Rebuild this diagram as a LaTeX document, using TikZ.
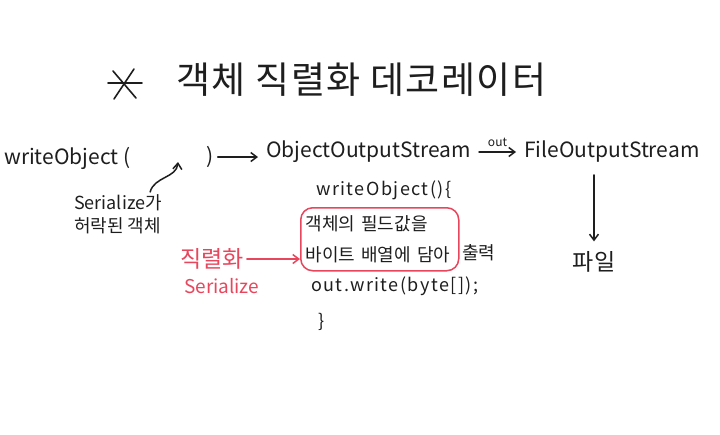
\documentclass[tikz,border=0pt]{standalone}
\usepackage{fontspec}
\setmainfont{Noto Sans CJK KR}
\usetikzlibrary{arrows.meta, positioning}
\definecolor{ink}{RGB}{30,30,30}
\definecolor{marker}{RGB}{232,70,92}
\tikzset{
  lbl/.style={inner sep=0pt, anchor=west, text=ink, font=\fontsize{21}{24}\selectfont},
  code/.style={inner sep=0pt, anchor=west, text=ink,
    font=\fontsize{18}{20}\selectfont\addfontfeature{LetterSpace=8}},
  note/.style={inner sep=0pt, text=ink, align=left, font=\fontsize{18}{23}\selectfont},
  redlbl/.style={inner sep=0pt, anchor=west, text=marker},
  arrow/.style={-{Straight Barb[length=6pt, width=9pt]}, line width=1.5pt, color=ink, line cap=round},
  redarrow/.style={-{Straight Barb[length=6pt, width=9pt]}, line width=1.5pt, color=marker, line cap=round},
}
\begin{document}
\begin{tikzpicture}[x=1pt, y=-1pt]
  \useasboundingbox[fill=white] (0,0) rectangle (720,434);

  % title with star
  \draw[ink, line width=1.6pt, line cap=round]
    (108,83)--(142,83) (113,71)--(136,98) (134,69)--(114,99);
  \node[lbl, font=\fontsize{37}{40}\selectfont\addfontfeature{LetterSpace=4}] (title) at (176,80)
    {객체 직렬화 데코레이터};

  % top row
  \node[lbl] (wo) at (4,158) {writeObject (};
  \node[lbl, anchor=center] (close) at (210,157) {)};
  \node[lbl] (oos) at (266,152) {ObjectOutputStream};
  \node[lbl] (fos) at (524,152) {FileOutputStream};
  \coordinate (arg) at (178,162);

  \draw[arrow] ([xshift=4pt]close.east) -- ([xshift=-8pt]close.east -| oos.west);
  \draw[arrow] ([xshift=8pt]oos.east) -- ([xshift=-8pt]fos.west)
    node[midway, above=5pt, inner sep=0pt, text=ink, font=\fontsize{12}{12}\selectfont] (out) {out};

  % argument note
  \node[note, anchor=north west] (allowed) at (74,194) {Serialize가\\허락된 객체};
  \draw[arrow] ([xshift=-12pt,yshift=2pt]allowed.north east) to[out=75, in=-95] (arg);

  % writeObject body
  \node[code] (body) at (316,190) {writeObject()\{};
  \node[draw=marker, line width=1.5pt, rounded corners=12pt, inner sep=5pt,
        text width=148pt, minimum height=63pt, align=left, text=ink,
        font=\fontsize{18}{31}\selectfont, anchor=north west] (fields) at (300,207)
    {객체의 필드값을\\바이트 배열에 담아};
  \node[code, font=\fontsize{18}{20}\selectfont] (print) at (462,253) {출력};
  \node[code] (write) at (311,286) {out.write(byte[]);};
  \node[code] (endbody) at (318,322) {\}};

  % serialize marker
  \node[redlbl, font=\fontsize{23}{24}\selectfont] (ser) at (180,259) {직렬화};
  \node[redlbl, font=\fontsize{19}{20}\selectfont] (serialize) at (184,286) {Serialize};
  \draw[redarrow] ([xshift=3pt]ser.east) -- (fields.west |- ser.east);

  % to file
  \node[lbl, anchor=center, font=\fontsize{23}{24}\selectfont] (file) at (594,262) {파일};
  \draw[arrow] ([yshift=-12pt]fos.south -| file.north) -- ([yshift=10pt]file.north);
\end{tikzpicture}
\end{document}
